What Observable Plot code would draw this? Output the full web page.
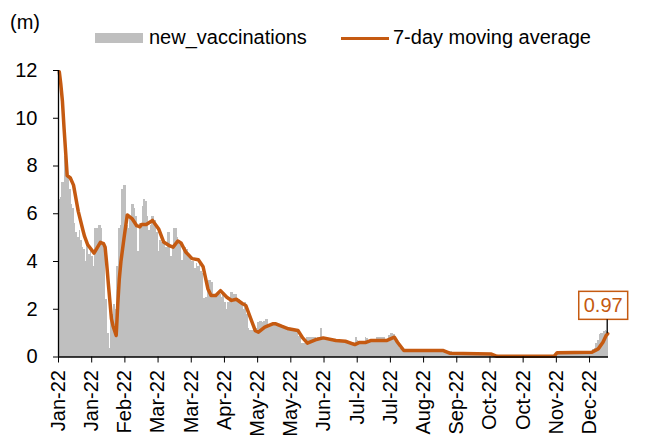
<!DOCTYPE html>
<html>
<head>
<meta charset="utf-8">
<script src="https://cdn.jsdelivr.net/npm/d3@7"></script>
<script src="https://cdn.jsdelivr.net/npm/@observablehq/plot@0.6"></script>
<style>
  html, body { margin: 0; padding: 0; background: #fff; }
  body { font-family: "Liberation Sans", Arial, sans-serif; color: #000; }
  #wrap { position: relative; width: 657px; height: 447px; overflow: hidden; }
  #top { position: relative; height: 50px; }
  .lbl { position: absolute; font-size: 20px; line-height: 20px; white-space: nowrap; }
  .swatch { position: absolute; }
  svg { display: block; }
</style>
</head>
<body>
<div id="wrap">
  <div id="top">
    <span class="lbl" style="left:10px;top:12px;">(m)</span>
    <span class="swatch" id="swBar" style="left:95px;top:33px;width:48px;height:10px;"></span>
    <span class="lbl" id="lgBar" style="left:149px;top:27px;"></span>
    <span class="swatch" id="swLine" style="left:341px;top:36.5px;width:48px;height:3.5px;"></span>
    <span class="lbl" id="lgLine" style="left:393px;top:27px;"></span>
  </div>
  <div id="chart"></div>
</div>
<script>
// ---- data ----
const startDay = "2022-01-01";
const seriesNames = ["new_vaccinations", "7-day moving average"];
const unitLabel = "(m)";

// daily new vaccinations (millions), Jan 1 2022 onward
const newVaccinations = [
  6.6, 6.7, 7.3, 7.3, 8.4, 8.3, 7.6,
  7.0, 6.4, 6.2, 5.6, 5.2, 5.0, 5.3,
  4.9, 4.6, 4.5, 4.0, 4.7, 4.3, 4.4,
  4.2, 3.8, 5.4, 5.4, 5.5, 5.5, 5.4,
  4.8, 4.5, 2.4, 1.0, 0.35, 1.5, 1.8,
  2.2, 2.0, 3.8, 5.4, 5.5, 7.0, 7.2,
  7.2, 5.5, 5.4, 5.8, 6.4, 6.4, 6.2,
  5.9, 4.4, 5.6, 5.6, 6.3, 6.6, 6.5,
  5.9, 5.3, 5.5, 5.9, 5.9, 5.7, 5.2,
  4.4, 4.9, 4.8, 4.8, 4.7, 4.6, 5.2,
  5.2, 4.2, 4.6, 5.4, 5.4, 5.0, 4.9,
  4.7, 4.05, 4.6, 4.6, 4.5, 4.2, 4.25,
  4.0, 4.0, 3.7, 3.9, 3.8, 3.9, 3.6,
  3.5, 2.45, 2.5, 2.8, 3.2, 3.2, 3.1,
  2.6, 2.6, 2.65, 2.6, 2.6, 2.5, 2.6,
  2.3, 2.0, 2.3, 2.5, 2.7, 2.7, 2.6,
  2.6, 2.4, 2.4, 2.3, 2.2, 2.0, 2.3,
  1.8, 1.2, 1.1, 1.1, 1.1, 1.1, 1.2,
  1.45, 1.5, 1.5, 1.45, 1.5, 1.55, 1.55,
  1.35, 1.4, 1.37, 1.35, 1.4, 1.3, 1.28,
  1.35, 1.28, 1.25, 1.28, 1.25, 1.25, 1.2,
  1.2, 1.12, 1.12, 1.1, 1.05, 0.86, 0.8,
  0.55, 0.55, 0.6, 0.8, 0.8, 0.82, 0.8,
  0.8, 0.8, 0.78, 0.8, 0.8, 1.19, 0.8,
  0.78, 0.78, 0.76, 0.78, 0.75, 0.74, 0.72,
  0.7, 0.66, 0.66, 0.68, 0.66, 0.66, 0.6,
  0.58, 0.55, 0.53, 0.55, 0.6, 0.53, 0.8,
  0.7, 0.6, 0.6, 0.6, 0.62, 0.8, 0.78,
  0.68, 0.68, 0.68, 0.68, 0.68, 0.8, 0.8,
  0.8, 0.8, 0.8, 0.8, 0.72, 0.75, 0.9,
  0.97, 0.97, 0.93, 0.75, 0.6, 0.5, 0.35,
  0.35, 0.28, 0.28, 0.28, 0.28, 0.28, 0.28,
  0.28, 0.28, 0.28, 0.28, 0.28, 0.28, 0.28,
  0.28, 0.28, 0.28, 0.28, 0.28, 0.28, 0.28,
  0.28, 0.28, 0.28, 0.28, 0.22, 0.22, 0.22,
  0.22, 0.22, 0.22, 0.22, 0.15, 0.15, 0.15,
  0.15, 0.15, 0.15, 0.15, 0.15, 0.15, 0.15,
  0.15, 0.15, 0.15, 0.15, 0.15, 0.15, 0.15,
  0.15, 0.15, 0.15, 0.15, 0.15, 0.15, 0.15,
  0.15, 0.15, 0.05, 0.05, 0.05, 0.05, 0.05,
  0.05, 0.05, 0.05, 0.05, 0.05, 0.05, 0.05,
  0.05, 0.05, 0.05, 0.05, 0.05, 0.05, 0.05,
  0.05, 0.05, 0.05, 0.05, 0.05, 0.05, 0.05,
  0.05, 0.05, 0.05, 0.05, 0.05, 0.05, 0.05,
  0.05, 0.05, 0.05, 0.05, 0.05, 0.05, 0.05,
  0.2, 0.2, 0.2, 0.2, 0.2, 0.2, 0.2,
  0.2, 0.2, 0.2, 0.2, 0.2, 0.2, 0.2,
  0.2, 0.2, 0.2, 0.2, 0.2, 0.2, 0.2,
  0.2, 0.22, 0.3, 0.35, 0.55, 0.7, 0.95,
  1.0, 0.98, 1.05, 1.1, 1.08
];

// 7-day moving average, read at its turning points (day index from Jan 1)
const maDay = [0, 1, 2, 3, 4, 5, 6, 7, 9, 12, 15, 16, 18, 22, 26, 28, 29, 30, 31, 33, 34, 36, 37, 38, 39, 41, 43, 46, 49, 51, 52, 55, 59, 63, 66, 70, 72, 75, 77, 80, 84, 88, 91, 94, 96, 99, 102, 106, 109, 112, 116, 118, 124, 126, 130, 135, 137, 141, 145, 151, 154, 157, 162, 167, 175, 181, 187, 190, 194, 197, 207, 212, 214, 218, 243, 247, 273, 277, 313, 315, 337, 341, 344, 346, 347];
const maValue = [11.95, 11.4, 10.7, 9.6, 8.6, 7.6, 7.55, 7.5, 7.2, 6.1, 5.3, 5.05, 4.7, 4.35, 4.8, 4.75, 4.6, 3.9, 3.1, 1.6, 1.3, 0.9, 2.2, 3.3, 4.0, 5.0, 5.95, 5.8, 5.5, 5.45, 5.55, 5.55, 5.72, 5.35, 4.82, 4.65, 4.6, 4.86, 4.78, 4.4, 4.12, 4.07, 3.78, 2.86, 2.58, 2.58, 2.78, 2.5, 2.37, 2.42, 2.23, 2.16, 1.1, 1.04, 1.25, 1.39, 1.39, 1.28, 1.18, 1.11, 0.8, 0.58, 0.72, 0.8, 0.69, 0.66, 0.52, 0.61, 0.61, 0.69, 0.69, 0.83, 0.62, 0.27, 0.27, 0.16, 0.13, 0.03, 0.03, 0.18, 0.2, 0.34, 0.62, 0.9, 0.97];

// x tick positions (labelled "%b-%y") and y ticks
const xTickDays = ["2022-01-01", "2022-01-22", "2022-02-12", "2022-03-05", "2022-03-26", "2022-04-16", "2022-05-07", "2022-05-28", "2022-06-18", "2022-07-09", "2022-07-30", "2022-08-20", "2022-09-10", "2022-10-01", "2022-10-22", "2022-11-12", "2022-12-03"];
const yTicks = [0, 2, 4, 6, 8, 10, 12];
const lastLabel = "0.97";

// ---- styling ----
const barColor = "#bfbfbf";
const lineColor = "#c55a11";
const fontFamily = '"Liberation Sans", Arial, sans-serif';

// ---- build tables ----
const start = new Date(startDay + "T00:00:00Z");
const bars = newVaccinations.map((v, i) => ({
  d0: d3.utcDay.offset(start, i),
  d1: d3.utcDay.offset(start, i + 1),
  v
}));
const ma = maDay.map((d, i) => ({ date: d3.utcHour.offset(d3.utcDay.offset(start, d), 12), v: maValue[i] }));
const xEnd = d3.utcDay.offset(start, newVaccinations.length);
const xTicks = xTickDays.map(s => new Date(s + "T00:00:00Z"));

// legend
document.getElementById("swBar").style.background = barColor;
document.getElementById("swLine").style.background = lineColor;
document.getElementById("lgBar").textContent = seriesNames[0];
document.getElementById("lgLine").textContent = seriesNames[1];

const chart = Plot.plot({
  width: 657,
  height: 397,
  marginTop: 20,
  marginBottom: 90.5,
  marginLeft: 58,
  marginRight: 49,
  style: { fontFamily, fontSize: "20px", color: "#000", background: "#fff" },
  x: { type: "utc", domain: [start, xEnd] },
  y: { domain: [0, 12] },
  marks: [
    Plot.rectY(bars, { x1: "d0", x2: "d1", y: "v", fill: barColor, shapeRendering: "crispEdges" }),
    Plot.line(ma, { x: "date", y: "v", stroke: lineColor, strokeWidth: 3.5, strokeLinejoin: "round" }),
    Plot.ruleY([0], { stroke: "#000", strokeWidth: 1.3 }),
    Plot.ruleX([start], { stroke: "#000", strokeWidth: 1.3 }),
    Plot.axisY({ ticks: yTicks, tickSize: 5, tickPadding: 16, tickFormat: d3.format("d"), label: null }),
    Plot.axisX({ ticks: xTicks, tickSize: 6, tickPadding: 7, tickRotate: -90, tickFormat: d3.utcFormat("%b-%y"), label: null })
  ]
});
document.getElementById("chart").appendChild(chart);

// ---- end-value annotation, positioned with the chart's own scales ----
const sx = chart.scale("x"), sy = chart.scale("y");
const last = ma[ma.length - 1];
const px = sx.apply(last.date), py = sy.apply(last.v);
const svg = d3.select(chart);
const g = svg.append("g").attr("font-family", fontFamily);
const boxBottom = py - 14;
const t = g.append("text")
  .attr("x", px - 4)
  .attr("y", boxBottom - 14)
  .attr("dy", "0.35em")
  .attr("text-anchor", "middle")
  .attr("font-size", 20)
  .attr("fill", lineColor)
  .text(lastLabel);
const bb = t.node().getBBox();
g.insert("rect", "text")
  .attr("x", bb.x - 5).attr("y", boxBottom - 28)
  .attr("width", bb.width + 10).attr("height", 28)
  .attr("fill", "#fff").attr("stroke", lineColor).attr("stroke-width", 1.5);
g.append("line")
  .attr("x1", px).attr("x2", px)
  .attr("y1", py).attr("y2", boxBottom)
  .attr("stroke", "#000").attr("stroke-width", 1.3);
</script>
</body>
</html>
